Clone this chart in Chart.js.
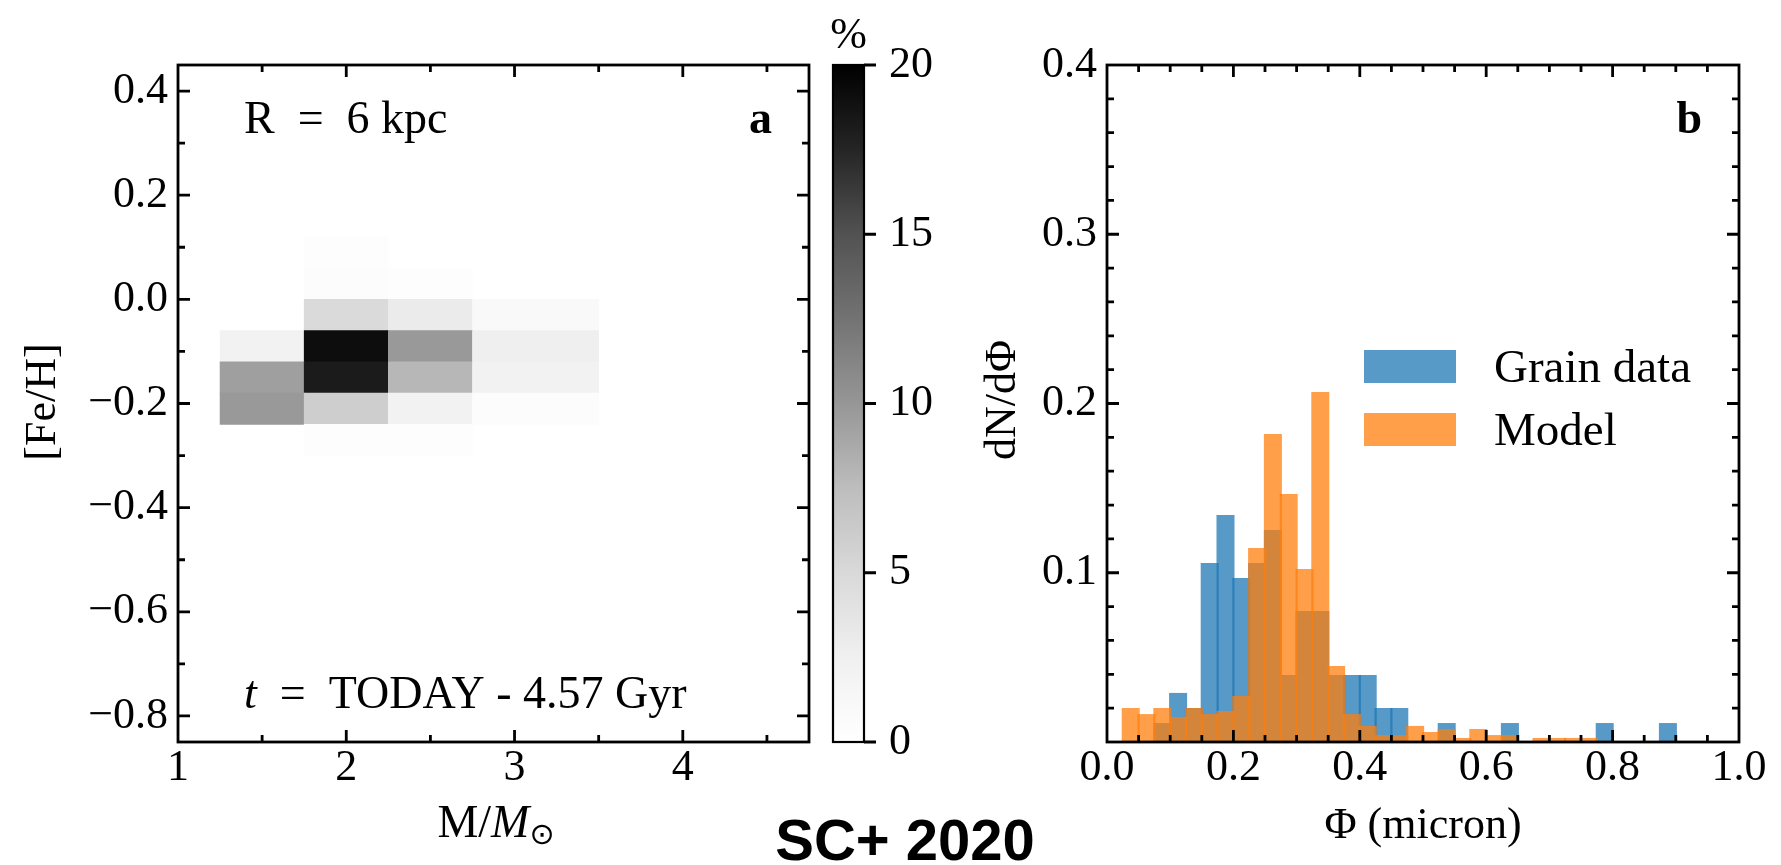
<!DOCTYPE html>
<html>
<head>
<meta charset="utf-8">
<title>SC+ 2020</title>
<script src="https://cdn.jsdelivr.net/npm/chart.js@4.4.1/dist/chart.umd.min.js"></script>
<style>
  body { margin: 0; background: #fff; }
  #wrap { position: relative; width: 1781px; height: 865px; overflow: hidden; background: #fff; }
  canvas { position: absolute; top: 0; }
  #cvLeft { left: 0px; }
  #cvBar { left: 815px; }
  #cvRight { left: 880px; }
  #stamp { position: absolute; left: 705px; top: 811px; width: 400px; text-align: center;
           font: bold 58px "Liberation Sans", Arial, sans-serif; line-height: 58px; color: #000; }
</style>
</head>
<body>
<div id="wrap">
  <canvas id="cvLeft" width="830" height="865"></canvas>
  <canvas id="cvBar" width="140" height="865"></canvas>
  <canvas id="cvRight" width="901" height="865"></canvas>
  <div id="stamp">SC+ 2020</div>
</div>
<script>
// panel a : % of stars per (mass, [Fe/H]) cell
const massEdges = [1.25, 1.75, 2.25, 2.75, 3.5];
const fehCenters = [0.09, 0.03, -0.03, -0.09, -0.15, -0.21, -0.27];
const cellPct = [
  [0,   0.33, 0,    0  ],
  [0,   0.5,  0.33, 0  ],
  [0,   4.9,  3.0,  1.0],
  [2.2, 19.1, 9.8,  2.6],
  [9.4, 18.2, 7.9,  2.2],
  [9.8, 6.0,  2.2,  0.5],
  [0,   0.33, 0.33, 0  ]
];
const massTicks = [1, 2, 3, 4];
const fehTicks = [-0.8, -0.6, -0.4, -0.2, 0, 0.2, 0.4];
const pctTicks = [0, 5, 10, 15, 20];

// panel b : dN/dPhi histograms
const phiBins = [0.0125, 0.0375, 0.0625, 0.0875, 0.1125, 0.1375, 0.1625, 0.1875, 0.2125, 0.2375,
  0.2625, 0.2875, 0.3125, 0.3375, 0.3625, 0.3875, 0.4125, 0.4375, 0.4625, 0.4875,
  0.5125, 0.5375, 0.5625, 0.5875, 0.6125, 0.6375, 0.6625, 0.6875, 0.7125, 0.7375,
  0.7625, 0.7875, 0.8125, 0.8375, 0.8625, 0.8875];
const grainData = [0, 0, 0, 0.0112, 0.0290, 0.0201, 0.1058, 0.1341, 0.0969, 0.1058,
  0.1253, 0.0396, 0.0774, 0.0774, 0.0396, 0.0396, 0.0396, 0.0201, 0.0201, 0,
  0, 0.0112, 0, 0, 0, 0.0112, 0, 0, 0, 0,
  0, 0.0112, 0, 0, 0, 0.0112];
const modelData = [0, 0.0201, 0.0165, 0.0201, 0.0148, 0.0201, 0.0165, 0.0183, 0.0272, 0.1146,
  0.1820, 0.1465, 0.1022, 0.2068, 0.0449, 0.0165, 0.0095, 0.0041, 0.0041, 0.0095,
  0.0059, 0.0077, 0.0024, 0.0077, 0.0041, 0.0041, 0, 0.0024, 0.0024, 0.0024,
  0.0024, 0, 0, 0, 0, 0];
const phiTicks = [0, 0.2, 0.4, 0.6, 0.8, 1.0];
const densTicks = [0.1, 0.2, 0.3, 0.4];

const blue = 'rgba(31, 119, 180, 0.75)';
const orange = 'rgba(255, 127, 14, 0.75)';
const greys = [255, 240, 217, 189, 150, 115, 82, 37, 0]; // matplotlib "Greys"

const serif = '"Liberation Serif", "DejaVu Serif", serif';
Chart.defaults.font.family = serif;
Chart.defaults.color = '#000';

function greyFor(pct) {
  const f = Math.min(Math.max(pct / 20, 0), 1) * 8;
  const i = Math.min(Math.floor(f), 7);
  const g = Math.round(greys[i] + (greys[i + 1] - greys[i]) * (f - i));
  return 'rgb(' + g + ',' + g + ',' + g + ')';
}

function minorTicks(from, to, step, majors) {
  const out = [];
  for (let k = Math.round(from / step); k <= Math.round(to / step); k++) {
    const v = Math.round(k * step * 1e6) / 1e6;
    if (!majors.some(m => Math.abs(m - v) < 1e-6)) out.push(v);
  }
  return out;
}

function setTicks(majors, minors) {
  return (scale) => {
    const t = majors.map(v => ({ value: v, major: true }))
      .concat(minors.map(v => ({ value: v, major: false })));
    t.sort((a, b) => a.value - b.value);
    scale.ticks = t;
  };
}

const fmt1 = (v) => v.toFixed(1).replace('-', '\u2212');
const tickFont = { family: serif, size: 44, lineHeight: 1 };

function axis(opts) {
  return Object.assign({
    type: 'linear',
    offset: false,
    grid: { display: false, drawTicks: false },
    border: { display: false }
  }, opts);
}

// box with inward ticks on all four sides
const framePlugin = {
  id: 'frame',
  afterDraw(chart) {
    const { ctx, chartArea: a, scales: { x, y } } = chart;
    ctx.save();
    ctx.strokeStyle = '#000';
    ctx.lineWidth = 2.8;
    ctx.beginPath();
    x.ticks.forEach(t => {
      const px = x.getPixelForValue(t.value);
      if (px <= a.left + 1 || px >= a.right - 1) return;
      const len = t.major ? 12 : 7;
      ctx.moveTo(px, a.bottom); ctx.lineTo(px, a.bottom - len);
      ctx.moveTo(px, a.top); ctx.lineTo(px, a.top + len);
    });
    y.ticks.forEach(t => {
      const py = y.getPixelForValue(t.value);
      if (py <= a.top + 1 || py >= a.bottom - 1) return;
      const len = t.major ? 12 : 7;
      ctx.moveTo(a.left, py); ctx.lineTo(a.left + len, py);
      ctx.moveTo(a.right, py); ctx.lineTo(a.right - len, py);
    });
    ctx.stroke();
    ctx.strokeRect(a.left, a.top, a.right - a.left, a.bottom - a.top);
    ctx.restore();
  }
};

function drawRuns(ctx, runs, x, y, align) {
  let total = 0;
  runs.forEach(r => { ctx.font = r.font; r.w = ctx.measureText(r.text).width; total += r.w; });
  let cx = align === 'center' ? x - total / 2 : (align === 'right' ? x - total : x);
  ctx.textAlign = 'left';
  ctx.textBaseline = 'alphabetic';
  runs.forEach(r => { ctx.font = r.font; ctx.fillText(r.text, cx, y + (r.dy || 0)); cx += r.w; });
}

function drawRotated(ctx, runs, x, y) {
  ctx.save();
  ctx.translate(x, y);
  ctx.rotate(-Math.PI / 2);
  drawRuns(ctx, runs, 0, 0, 'center');
  ctx.restore();
}

const f46 = '46px ' + serif;
const f46i = 'italic 46px ' + serif;
const f46b = 'bold 46px ' + serif;

// ---------- panel a : heatmap ----------
const cells = [];
const cellColors = [];
fehCenters.forEach((yc, i) => {
  cellPct[i].forEach((p, j) => {
    if (p <= 0) return;
    cells.push({ y: yc, x: [massEdges[j], massEdges[j + 1]] });
    cellColors.push(greyFor(p));
  });
});

const textsA = {
  id: 'textsA',
  afterDraw(chart) {
    const ctx = chart.ctx;
    ctx.save();
    ctx.fillStyle = '#000';
    drawRuns(ctx, [{ text: 'R\u2002=\u20026 kpc', font: f46 }], 244, 133, 'left');
    drawRuns(ctx, [{ text: 'a', font: f46b }], 772, 133, 'right');
    drawRuns(ctx, [{ text: 't', font: f46i }, { text: '\u2002=\u2002TODAY - 4.57 Gyr', font: f46 }], 244, 708, 'left');
    drawRuns(ctx, [
      { text: 'M/', font: f46 },
      { text: 'M', font: f46i },
      { text: '\u2299', font: '30px "DejaVu Sans", ' + serif, dy: 7 }
    ], 496, 837, 'center');
    drawRotated(ctx, [{ text: '[Fe/H]', font: '44px ' + serif }], 55, 402);
    ctx.restore();
  }
};

new Chart(document.getElementById('cvLeft'), {
  type: 'bar',
  data: {
    datasets: [{
      data: cells,
      backgroundColor: cellColors,
      borderWidth: 0,
      barPercentage: 1,
      categoryPercentage: 1
    }]
  },
  options: {
    indexAxis: 'y',
    responsive: false,
    animation: false,
    events: [],
    layout: { padding: { top: 65, left: 0, right: 21, bottom: 0 } },
    plugins: { legend: { display: false }, tooltip: { enabled: false } },
    scales: {
      x: axis({
        min: 1, max: 4.75,
        afterBuildTicks: setTicks(massTicks, [1.5, 2.5, 3.5, 4.5]),
        afterFit: (s) => { s.height = 123; },
        ticks: { font: tickFont, padding: 4, autoSkip: false, maxRotation: 0, minRotation: 0,
                 callback: (v, i, t) => t[i].major ? String(v) : '' }
      }),
      y: axis({
        min: -0.85, max: 0.45,
        afterBuildTicks: setTicks(fehTicks, minorTicks(-0.8, 0.4, 0.1, fehTicks)),
        afterFit: (s) => { s.width = 178; },
        ticks: { font: tickFont, padding: 10, autoSkip: false,
                 callback: (v, i, t) => t[i].major ? fmt1(v) : '' }
      })
    }
  },
  plugins: [framePlugin, textsA]
});

// ---------- colour bar ----------
const barFrame = {
  id: 'barFrame',
  afterDraw(chart) {
    const { ctx, chartArea: a, scales: { y } } = chart;
    ctx.save();
    ctx.strokeStyle = '#000';
    ctx.lineWidth = 2.2;
    ctx.strokeRect(a.left, a.top, a.right - a.left, a.bottom - a.top);
    ctx.lineWidth = 2.8;
    ctx.beginPath();
    y.ticks.forEach(t => {
      const py = y.getPixelForValue(t.value);
      ctx.moveTo(a.right, py); ctx.lineTo(a.right + 12, py);
    });
    ctx.stroke();
    ctx.fillStyle = '#000';
    drawRuns(ctx, [{ text: '%', font: '44px ' + serif }], (a.left + a.right) / 2, 48, 'center');
    ctx.restore();
  }
};

new Chart(document.getElementById('cvBar'), {
  type: 'bar',
  data: {
    labels: [''],
    datasets: [{
      data: [[pctTicks[0], pctTicks[pctTicks.length - 1]]],
      borderWidth: 0,
      barPercentage: 1,
      categoryPercentage: 1,
      backgroundColor: (c) => {
        const ch = c.chart;
        if (!ch.chartArea) return '#888';
        const y = ch.scales.y;
        const g = ch.ctx.createLinearGradient(0, y.getPixelForValue(0), 0, y.getPixelForValue(20));
        greys.forEach((v, i) => g.addColorStop(i / 8, 'rgb(' + v + ',' + v + ',' + v + ')'));
        return g;
      }
    }]
  },
  options: {
    responsive: false,
    animation: false,
    events: [],
    layout: { padding: { top: 65, left: 18, right: 0, bottom: 123 } },
    plugins: { legend: { display: false }, tooltip: { enabled: false } },
    scales: {
      x: { display: false },
      y: axis({
        position: 'right',
        min: 0, max: 20,
        afterBuildTicks: setTicks(pctTicks, []),
        afterFit: (s) => { s.width = 91; },
        ticks: { font: tickFont, padding: 25, autoSkip: false, callback: (v) => String(v) }
      })
    }
  },
  plugins: [barFrame]
});

// ---------- panel b : histograms ----------
const textsB = {
  id: 'textsB',
  afterDraw(chart) {
    const ctx = chart.ctx;
    const ds = chart.data.datasets;
    ctx.save();
    ctx.fillStyle = '#000';
    drawRuns(ctx, [{ text: 'b', font: f46b }], 822, 133, 'right');
    // legend
    ctx.fillStyle = ds[0].backgroundColor;
    ctx.fillRect(484, 350, 92, 33);
    ctx.fillStyle = ds[1].backgroundColor;
    ctx.fillRect(484, 413, 92, 33);
    ctx.fillStyle = '#000';
    drawRuns(ctx, [{ text: ds[0].label, font: '47px ' + serif }], 614, 382, 'left');
    drawRuns(ctx, [{ text: ds[1].label, font: '47px ' + serif }], 614, 445, 'left');
    drawRuns(ctx, [{ text: '\u03a6 (micron)', font: '44px ' + serif }], 543, 838, 'center');
    drawRotated(ctx, [{ text: 'dN/d\u03a6', font: '44px ' + serif }], 135, 400);
    ctx.restore();
  }
};

new Chart(document.getElementById('cvRight'), {
  type: 'bar',
  data: {
    labels: phiBins,
    datasets: [
      { label: 'Grain data', data: phiBins.map((x, i) => ({ x: x, y: grainData[i] })),
        backgroundColor: blue, order: 1 },
      { label: 'Model', data: phiBins.map((x, i) => ({ x: x, y: modelData[i] })),
        backgroundColor: orange, order: 0 }
    ]
  },
  options: {
    responsive: false,
    animation: false,
    events: [],
    layout: { padding: { top: 65, left: 0, right: 42, bottom: 0 } },
    datasets: {
      bar: { grouped: false, borderWidth: 0, barPercentage: 1.14, categoryPercentage: 1 }
    },
    plugins: { legend: { display: false }, tooltip: { enabled: false } },
    scales: {
      x: axis({
        min: 0, max: 1,
        afterBuildTicks: setTicks(phiTicks, minorTicks(0, 1, 0.05, phiTicks)),
        afterFit: (s) => { s.height = 123; },
        ticks: { font: tickFont, padding: 4, autoSkip: false, maxRotation: 0, minRotation: 0,
                 callback: (v, i, t) => t[i].major ? fmt1(v) : '' }
      }),
      y: axis({
        min: 0, max: 0.4,
        afterBuildTicks: setTicks(densTicks, minorTicks(0, 0.4, 0.02, densTicks.concat([0]))),
        afterFit: (s) => { s.width = 227; },
        ticks: { font: tickFont, padding: 10, autoSkip: false,
                 callback: (v, i, t) => t[i].major ? fmt1(v) : '' }
      })
    }
  },
  plugins: [framePlugin, textsB]
});
</script>
</body>
</html>
